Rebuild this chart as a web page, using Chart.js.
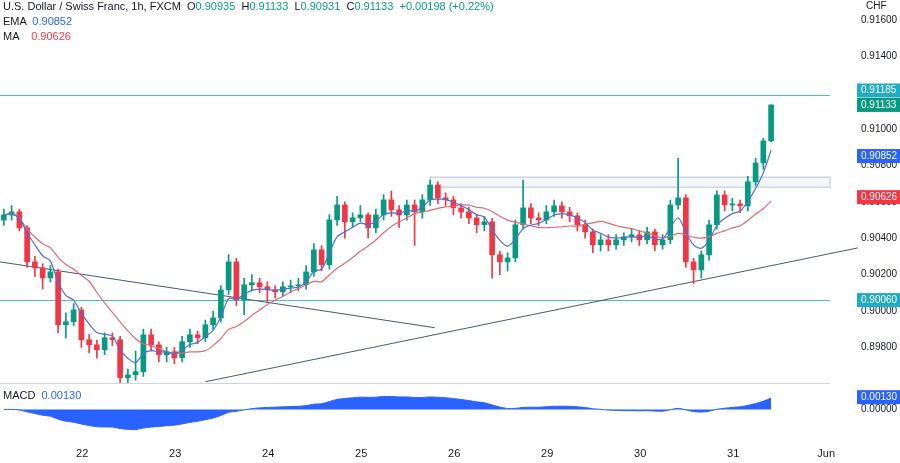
<!DOCTYPE html>
<html>
<head>
<meta charset="utf-8">
<script src="https://cdn.jsdelivr.net/npm/chart.js@4.4.1/dist/chart.umd.min.js"></script>
<style>
  body { margin: 0; background: #fff; font-family: "Liberation Sans", Arial, sans-serif; }
  #wrap { position: relative; width: 900px; height: 463px; overflow: hidden; }
  canvas { position: absolute; left: 0; }
  .txt { position: absolute; font-size: 11px; color: #131722; white-space: nowrap; }
</style>
</head>
<body>
<div id="wrap">
  <canvas id="main" width="900" height="383" style="top:0"></canvas>
  <canvas id="macd" width="900" height="80" style="top:383px"></canvas>
  <div class="txt" style="left:3px;top:0px">U.S. Dollar / Swiss Franc, 1h, FXCM &nbsp;O<span style="color:#089981">0.90935</span> &nbsp;H<span style="color:#089981">0.91133</span> &nbsp;L<span style="color:#089981">0.90931</span> &nbsp;C<span style="color:#089981">0.91133</span> &nbsp;<span style="color:#089981">+0.00198 (+0.22%)</span></div>
  <div class="txt" style="left:3px;top:15px">EMA &nbsp;<span style="color:#2962ff">0.90852</span></div>
  <div class="txt" style="left:3px;top:30px">MA &nbsp;&nbsp;&nbsp;<span style="color:#f23645">0.90626</span></div>
  <div class="txt" style="left:866px;top:0px;font-size:10px">CHF</div>
  <div class="txt" style="left:3px;top:389px">MACD &nbsp;<span style="color:#2962ff">0.00130</span></div>
</div>
<script>
// candles (2h spacing on screen), prices
const opens = [0.90500];
const closes = [
  0.90528,0.90545,0.90457,0.90270,0.90237,0.90182,0.90215,0.89924,0.89941,0.90006,
  0.89842,0.89814,0.89787,0.89853,0.89842,0.89633,0.89649,0.89666,0.89869,0.89814,
  0.89759,0.89776,0.89743,0.89831,0.89869,0.89853,0.89924,0.89962,0.90116,0.90270,
  0.90061,0.90144,0.90155,0.90133,0.90116,0.90105,0.90133,0.90138,0.90144,0.90215,
  0.90336,0.90254,0.90501,0.90583,0.90490,0.90512,0.90528,0.90457,0.90528,0.90611,
  0.90556,0.90528,0.90583,0.90545,0.90611,0.90693,0.90622,0.90611,0.90567,0.90545,
  0.90512,0.90474,0.90490,0.90309,0.90270,0.90292,0.90474,0.90567,0.90512,0.90501,
  0.90545,0.90578,0.90545,0.90523,0.90474,0.90435,0.90364,0.90391,0.90364,0.90391,
  0.90408,0.90419,0.90391,0.90435,0.90364,0.90391,0.90583,0.90622,0.90270,0.90226,
  0.90309,0.90474,0.90638,0.90583,0.90589,0.90578,0.90710,0.90814,0.90935,0.91133
];
const highs = [
  0.9056,0.9058,0.9056,0.9047,0.9030,0.9026,0.9025,0.9023,0.8999,0.9004,
  0.9002,0.8987,0.8984,0.8988,0.8988,0.8986,0.8968,0.8978,0.8990,0.8990,
  0.8983,0.8980,0.8980,0.8986,0.8990,0.8989,0.8995,0.9000,0.9014,0.9031,
  0.9029,0.9018,0.9020,0.9018,0.9016,0.9014,0.9016,0.9017,0.9018,0.9025,
  0.9037,0.9036,0.9053,0.9063,0.9060,0.9054,0.9058,0.9054,0.9056,0.9064,
  0.9066,0.9058,0.9061,0.9061,0.9064,0.9072,0.9071,0.9065,0.9063,0.9059,
  0.9057,0.9053,0.9052,0.9051,0.9033,0.9032,0.9050,0.9072,0.9059,0.9054,
  0.9058,0.9061,0.9060,0.9057,0.9054,0.9050,0.9045,0.9042,0.9042,0.9042,
  0.9043,0.9045,0.9044,0.9046,0.9045,0.9042,0.9061,0.9084,0.9064,0.9029,
  0.9033,0.9050,0.9066,0.9066,0.9062,0.9061,0.9074,0.9084,0.9095,0.91133
];
const lows = [
  0.9047,0.9050,0.9044,0.9024,0.9019,0.9012,0.9016,0.8988,0.8985,0.8992,
  0.8980,0.8977,0.8974,0.8976,0.8981,0.8960,0.8960,0.8962,0.8964,0.8978,
  0.8972,0.8972,0.8971,0.8972,0.8980,0.8982,0.8983,0.8990,0.8994,0.9009,
  0.9003,0.8998,0.9011,0.9010,0.9005,0.9007,0.9008,0.9010,0.9011,0.9012,
  0.9019,0.9022,0.9023,0.9047,0.9040,0.9046,0.9049,0.9040,0.9043,0.9050,
  0.9052,0.9046,0.9050,0.9036,0.9051,0.9058,0.9059,0.9058,0.9053,0.9051,
  0.9048,0.9043,0.9044,0.9018,0.9020,0.9022,0.9027,0.9045,0.9048,0.9047,
  0.9048,0.9052,0.9051,0.9049,0.9044,0.9040,0.9032,0.9033,0.9033,0.9034,
  0.9036,0.9038,0.9036,0.9037,0.9033,0.9034,0.9037,0.9056,0.9024,0.9015,
  0.9018,0.9028,0.9045,0.9055,0.9055,0.9054,0.9055,0.9069,0.9078,0.90931
];
for (let i = 1; i < closes.length; i++) opens.push(closes[i - 1]);

const dayLabels = ['22', '23', '24', '25', '26', '29', '30', '31', 'Jun'];
const dayPos = [10.1, 22.1, 34.1, 46.1, 58.1, 70.1, 82.1, 94.1, 106.1];
const priceTicks = [0.898, 0.900, 0.902, 0.904, 0.906, 0.908, 0.910, 0.912, 0.914, 0.916];
const hLines = [0.91185, 0.90060];
const lastEma = 0.90852, lastMa = 0.90626, lastMacd = 0.00130;
const trend1 = [[-0.5, 0.90270], [55.6, 0.89908]];
const trend2 = [[26, 0.89611], [110.2, 0.90347]];
const zone = [55, 0.90736, 0.90681];

const UP = '#089981', DN = '#f23645', LINE = '#4fbfc4', LBOX = '#22abc4';

function ema(arr, n) {
  const k = 2 / (n + 1), out = [];
  arr.forEach((v, i) => out.push(i === 0 ? v : v * k + out[i - 1] * (1 - k)));
  return out;
}
function sma(arr, n) {
  return arr.map((v, i) => {
    const s = arr.slice(Math.max(0, i - n + 1), i + 1);
    return s.reduce((a, b) => a + b, 0) / s.length;
  });
}
const emaLine = ema(closes, 5);
const maLine = sma(closes, 12);
const e1 = ema(closes, 12), e2 = ema(closes, 26);
const macd = closes.map((v, i) => e1[i] - e2[i]);

const idx = closes.map((v, i) => i);
const colors = closes.map((c, i) => c >= opens[i] ? UP : DN);

const rightFit = (s) => { s.width = 70; };
const FONT = '10px "Liberation Sans", Arial';

function priceBox(ctx, py, color, text) {
  ctx.fillStyle = color;
  ctx.fillRect(857, py - 7, 43, 14);
  ctx.fillStyle = '#fff';
  ctx.fillText(text, 861, py);
}

const overlay = {
  id: 'overlay',
  beforeDatasetsDraw(chart) {
    const { ctx, chartArea: a, scales: { x, y } } = chart;
    ctx.save();
    ctx.fillStyle = 'rgba(120,140,170,0.08)';
    ctx.strokeStyle = '#b8c2d0';
    ctx.lineWidth = 1;
    const zx = x.getPixelForValue(zone[0]), zy1 = y.getPixelForValue(zone[1]), zy2 = y.getPixelForValue(zone[2]);
    ctx.fillRect(zx, zy1, a.right - zx, zy2 - zy1);
    ctx.strokeRect(zx, zy1, a.right - zx, zy2 - zy1);
    ctx.strokeStyle = LINE;
    hLines.forEach(p => {
      const py = Math.round(y.getPixelForValue(p)) + 0.5;
      ctx.beginPath(); ctx.moveTo(0, py); ctx.lineTo(a.right, py); ctx.stroke();
    });
    ctx.strokeStyle = '#4a5775';
    [trend1, trend2].forEach(t => {
      ctx.beginPath();
      ctx.moveTo(x.getPixelForValue(t[0][0]), y.getPixelForValue(t[0][1]));
      ctx.lineTo(x.getPixelForValue(t[1][0]), y.getPixelForValue(t[1][1]));
      ctx.stroke();
    });
    ctx.restore();
  },
  afterDraw(chart) {
    const { ctx, scales: { y } } = chart;
    ctx.save();
    ctx.font = FONT;
    ctx.textBaseline = 'middle';
    ctx.fillStyle = '#131722';
    y.ticks.forEach(t => ctx.fillText(t.value.toFixed(5), 861, y.getPixelForValue(t.value)));
    const boxes = [
      [0.91185, LBOX, -5], [0.91133, UP, 0],
      [lastEma, '#2962ff', 0], [lastMa, '#f23645', 0], [0.90060, LBOX, 0]
    ];
    boxes.forEach(([p, c, off]) => priceBox(ctx, y.getPixelForValue(p) + off, c, p.toFixed(5)));
    ctx.restore();
  }
};

new Chart(document.getElementById('main'), {
  type: 'bar',
  data: {
    datasets: [
      { data: idx.map(i => ({ x: i, y: [lows[i], highs[i]] })), backgroundColor: colors, barThickness: 1, grouped: false, clip: false, order: 3 },
      { data: idx.map(i => ({ x: i, y: [opens[i], closes[i]] })), backgroundColor: colors, barThickness: 5, grouped: false, clip: false, order: 2 },
      { type: 'line', data: idx.map(i => ({ x: i, y: maLine[i] })), borderColor: '#e06a70', borderWidth: 1.2, pointRadius: 0, tension: 0.3, order: 1 },
      { type: 'line', data: idx.map(i => ({ x: i, y: emaLine[i] })), borderColor: '#4a6fd8', borderWidth: 1.2, pointRadius: 0, tension: 0.3, order: 0 }
    ]
  },
  options: {
    responsive: false, animation: false, devicePixelRatio: 1,
    layout: { padding: 0 },
    plugins: { legend: { display: false }, tooltip: { enabled: false } },
    scales: {
      x: { type: 'linear', min: -0.5, max: 106.6, offset: false, display: false },
      y: {
        position: 'right', min: 0.89604, max: 0.9171,
        afterFit: rightFit,
        afterBuildTicks: s => { s.ticks = priceTicks.map(v => ({ value: v })); },
        grid: { display: false }, border: { display: false },
        ticks: { display: false }
      }
    }
  },
  plugins: [overlay]
});

const macdOverlay = {
  id: 'macdOverlay',
  afterDraw(chart) {
    const { ctx, chartArea: a, scales: { y } } = chart;
    ctx.save();
    ctx.strokeStyle = '#d1d4dc';
    ctx.beginPath(); ctx.moveTo(0, 0.5); ctx.lineTo(a.right, 0.5); ctx.stroke();
    ctx.font = FONT;
    ctx.textBaseline = 'middle';
    priceBox(ctx, y.getPixelForValue(lastMacd), '#2962ff', lastMacd.toFixed(5));
    ctx.fillStyle = '#131722';
    ctx.fillText('0.00000', 861, y.getPixelForValue(0));
    ctx.restore();
  }
};

new Chart(document.getElementById('macd'), {
  type: 'line',
  data: {
    datasets: [{ data: idx.map(i => ({ x: i, y: macd[i] })), borderColor: '#2962ff', borderWidth: 1,
      backgroundColor: '#2962ff', fill: 'origin', pointRadius: 0, tension: 0.3 }]
  },
  options: {
    responsive: false, animation: false, devicePixelRatio: 1,
    layout: { padding: 0 },
    plugins: { legend: { display: false }, tooltip: { enabled: false } },
    scales: {
      x: {
        type: 'linear', min: -0.5, max: 106.6,
        afterBuildTicks: s => { s.ticks = dayPos.map(v => ({ value: v })); },
        grid: { display: false }, border: { display: false },
        ticks: { color: '#131722', font: { size: 11, family: 'Liberation Sans' }, maxRotation: 0, padding: 2,
          callback: (v, i) => dayLabels[i] }
      },
      y: {
        position: 'right', min: -0.00297, max: 0.00279, afterFit: rightFit,
        grid: { display: false }, border: { display: false },
        ticks: { display: false }
      }
    }
  },
  plugins: [macdOverlay]
});
</script>
</body>
</html>
